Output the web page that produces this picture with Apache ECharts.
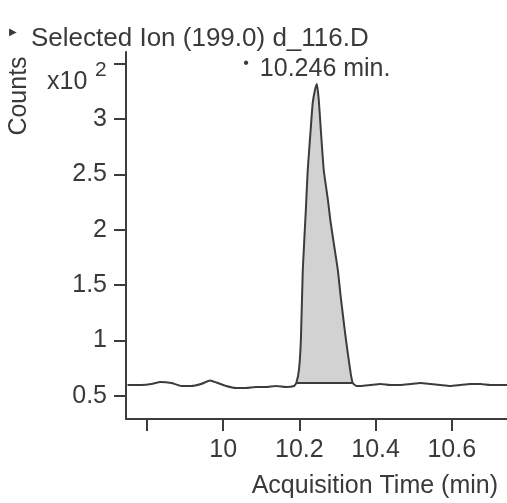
<!DOCTYPE html>
<html>
<head>
<meta charset="utf-8">
<script src="https://cdn.jsdelivr.net/npm/echarts@6/dist/echarts.min.js"></script>
<style>
  html, body { margin: 0; padding: 0; background: #fff; }
  #chart { width: 507px; height: 503px; }
</style>
</head>
<body>
<div id="chart"></div>
<script>
// ── data (counts in x10^2) ──
const timeMin = [9.749, 9.786, 9.812, 9.835, 9.864, 9.890, 9.916, 9.942, 9.966, 9.982,
  10.008, 10.034, 10.060, 10.086, 10.112, 10.139, 10.165, 10.186, 10.192, 10.199,
  10.204, 10.209, 10.217, 10.222, 10.230, 10.235, 10.241, 10.246, 10.251, 10.256,
  10.264, 10.275, 10.282, 10.293, 10.301, 10.308, 10.319, 10.327, 10.335, 10.340,
  10.350, 10.361, 10.387, 10.413, 10.439, 10.465, 10.492, 10.518, 10.544,
  10.570, 10.596, 10.622, 10.648, 10.675, 10.701, 10.727, 10.745];
const counts = [0.599, 0.599, 0.608, 0.626, 0.617, 0.590, 0.590, 0.608, 0.640, 0.622,
  0.590, 0.572, 0.572, 0.581, 0.581, 0.590, 0.581, 0.590, 0.617, 0.735,
  1.005, 1.637, 2.179, 2.540, 2.919, 3.144, 3.262, 3.316, 3.172, 2.919,
  2.540, 2.269, 2.070, 1.818, 1.637, 1.412, 1.096, 0.888, 0.699, 0.617,
  0.590, 0.590, 0.599, 0.608, 0.599, 0.599, 0.608, 0.617, 0.608,
  0.599, 0.590, 0.599, 0.608, 0.608, 0.599, 0.599, 0.599];
const peakStart = 18, peakEnd = 39, apexIdx = 27;
const peakBase = 0.617;
const peakLabel = "10.246 min.";

const xTicks = [9.8, 10, 10.2, 10.4, 10.6];
const xLabels = [10, 10.2, 10.4, 10.6];
const yTicks = [0.5, 1, 1.5, 2, 2.5, 3, 3.5];
const yLabels = [0.5, 1, 1.5, 2, 2.5, 3];

const FONT = "'Liberation Sans', Arial, sans-serif";
const TXT = "#3a3a3a";
const LINE = "#3c3c3c";

const trace = timeMin.map((t, i) => [t, counts[i]]);
const peak = trace.slice(peakStart, peakEnd + 1);

const chart = echarts.init(document.getElementById("chart"), null, { renderer: "canvas" });
chart.setOption({
  animation: false,
  backgroundColor: "#fff",
  title: {
    text: "Selected Ion (199.0) d_116.D",
    left: 26, top: 21,
    textStyle: { fontFamily: FONT, fontSize: 26, fontWeight: "normal", color: TXT },
  },
  grid: { left: 126, right: 0, top: 52, bottom: 84, containLabel: false, outerBoundsMode: "none" },
  xAxis: {
    type: "value", min: 9.745, max: 10.745,
    axisLine: { lineStyle: { color: LINE, width: 2 } },
    axisTick: { customValues: xTicks, length: 12, lineStyle: { color: LINE, width: 2 } },
    axisLabel: {
      customValues: xLabels, margin: 19, color: TXT, fontFamily: FONT, fontSize: 25,
      formatter: (v) => String(v),
    },
    splitLine: { show: false },
  },
  yAxis: {
    type: "value", min: 0.292, max: 3.605,
    axisLine: { show: true, lineStyle: { color: LINE, width: 2 } },
    axisTick: { show: true, customValues: yTicks, length: 12, lineStyle: { color: LINE, width: 2 } },
    axisLabel: {
      customValues: yLabels, margin: 19, color: TXT, fontFamily: FONT, fontSize: 25,
      formatter: (v) => String(v),
    },
    splitLine: { show: false },
  },
  graphic: [
    { type: "text", left: 9, top: 27,
      style: { text: "▶", font: "10px " + FONT, fill: TXT } },
    // axis multiplier x10² in place of the top tick label
    { type: "text", left: 47, top: 70,
      style: { text: "x10", font: "25px " + FONT, fill: TXT } },
    { type: "text", left: 95, top: 60,
      style: { text: "2", font: "21px " + FONT, fill: TXT } },
    { type: "text", x: 19, y: 96, rotation: Math.PI / 2,
      style: { text: "Counts", font: "25px " + FONT, fill: TXT, align: "center", verticalAlign: "middle" } },
    { type: "text", right: 9, top: 474,
      style: { text: "Acquisition Time (min)", font: "25px " + FONT, fill: TXT } },
  ],
  series: [
    {
      type: "line", data: peak, symbol: "none", z: 1,
      lineStyle: { width: 0 },
      areaStyle: { color: "#d2d2d2", opacity: 1, origin: peakBase },
    },
    {
      type: "line",
      data: [[timeMin[peakStart], peakBase], [timeMin[peakEnd], peakBase]],
      symbol: "none", z: 2, lineStyle: { color: LINE, width: 2 },
    },
    {
      type: "line", data: trace, symbol: "none", z: 3, smooth: 0.15,
      lineStyle: { color: LINE, width: 2 },
      markPoint: {
        symbol: "circle", symbolSize: 0,
        data: [{ coord: trace[apexIdx] }],
        label: {
          show: true, position: "top", distance: 2,
          formatter: "{d|•} " + peakLabel,
          color: TXT, fontFamily: FONT, fontSize: 25,
          rich: { d: { fontSize: 16, color: TXT, fontFamily: FONT, padding: [0, 4, 10, 0] } },
        },
      },
    },
  ],
});
</script>
</body>
</html>
